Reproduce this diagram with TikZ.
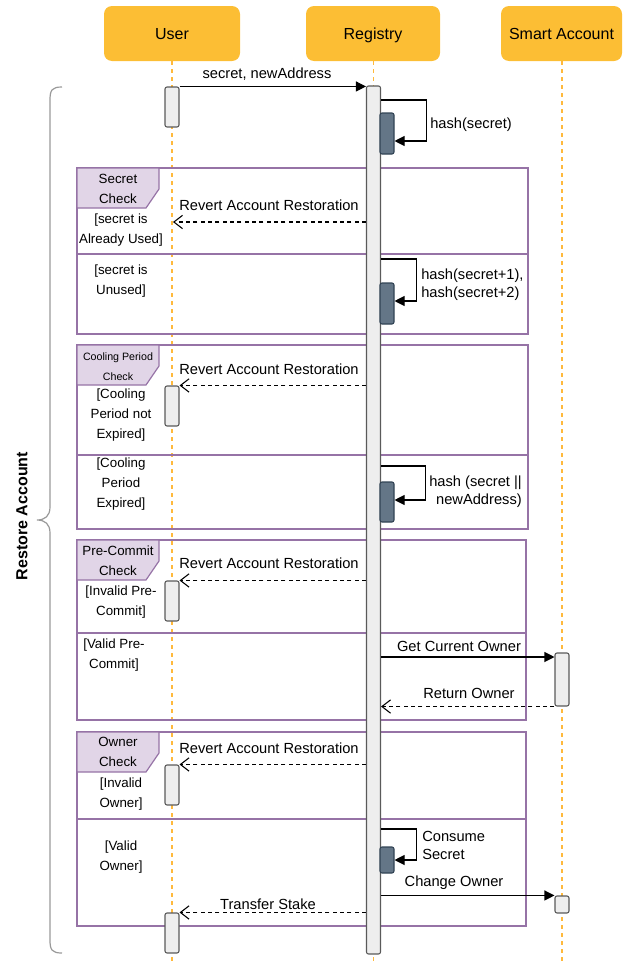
\documentclass[tikz,border=0pt]{standalone}
\usepackage{fontspec}
\setmainfont{Liberation Sans}
\usepackage{tikz}
\usetikzlibrary{arrows.meta}
\usetikzlibrary{positioning}
\definecolor{headfill}{RGB}{252,190,52}
\definecolor{lifecolor}{RGB}{255,185,60}
\definecolor{framecolor}{RGB}{150,115,166}
\definecolor{tabcolor}{RGB}{225,213,231}
\definecolor{actfill}{RGB}{238,238,238}
\definecolor{actdraw}{RGB}{90,90,90}
\definecolor{darkfill}{RGB}{100,118,135}
\definecolor{darkdraw}{RGB}{49,67,84}
\def\unitpx{0.75pt}
\tikzstyle{headbox}=[rectangle,rounded corners=6pt,fill=headfill,draw=none,minimum height=41.25pt,inner sep=0pt,text height=8.6pt,text depth=0pt,font=\fontsize{12}{14}\selectfont]
\tikzstyle{lifedash}=[draw=lifecolor,line width=0.9pt,dash pattern=on 3pt off 3pt]
\tikzstyle{actbar}=[rectangle,rounded corners=1.5pt,fill=actfill,draw=actdraw,line width=0.8pt,minimum width=10.5pt,inner sep=0pt]
\tikzstyle{darkbar}=[actbar,fill=darkfill,draw=darkdraw]
\tikzstyle{framebox}=[draw=framecolor,line width=0.9pt]
\tikzstyle{tabbox}=[framebox,fill=tabcolor]
\tikzstyle{guardtext}=[align=center,inner sep=0pt,font=\fontsize{10}{15}\selectfont]
\tikzstyle{msgtext}=[inner sep=0pt,font=\fontsize{11}{13.5}\selectfont]
\tikzstyle{syncmsg}=[draw=black,line width=0.8pt,-{Triangle[length=7.5pt,width=7.5pt]}]
\tikzstyle{replymsg}=[draw=black,line width=0.8pt,dash pattern=on 3pt off 2.5pt,-{Straight Barb[length=6.5pt,width=10pt]}]
\tikzstyle{bracepath}=[draw=black!40,line width=0.9pt]

\begin{document}
\begin{tikzpicture}[x=\unitpx, y=-\unitpx]
\useasboundingbox (0,0) rectangle (624,964);

%Participants
    \foreach \pos/\name/\w/\label in {{(172,33.5)/user/136/User}, {(373,33.5)/reg/134/Registry}, {(561.5,33.5)/acc/121/Smart Account}}
        \node[headbox, minimum width=\w*\unitpx] (\name) at \pos {\label};

%Lifelines
    \foreach \name/\x in {user/172, reg/373.5, acc/562}{
        \coordinate (\name-end) at (\x,964);
        \draw[lifedash] (\name.south -| \name-end) -- (\name-end);
    }

%Restore Account brace
    \draw[bracepath] (62,87) .. controls (52,87) and (50,90) .. (50,100) -- (50,507) .. controls (50,516) and (45,520) .. (37,520) .. controls (45,520) and (50,524) .. (50,533) -- (50,940) .. controls (50,950) and (52,953) .. (62,953);
    \node[rotate=90, inner sep=0pt, font=\bfseries\fontsize{12}{14}\selectfont] (restore) at (22,516) {Restore Account};

%Frames
    \foreach \t/\d/\b/\r in {168/254/334/528, 345/455/529/528, 540/633/720/526, 732/819/926/526}{
        \draw[framebox] (77,\t) rectangle (\r,\b);
        \draw[framebox] (77,\d) -- (\r,\d);
        \draw[tabbox] (77,\t) -- (159,\t) -- (159,\t+21) -- (146,\t+40) -- (77,\t+40) -- cycle;
    }
    \node[guardtext] (tabsecret) at (118,189) {Secret\\Check};
    \node[guardtext, font=\fontsize{8}{15}\selectfont] (tabcooling) at (118,367) {Cooling Period\\Check};
    \node[guardtext] (tabcommit) at (118,561) {Pre-Commit\\Check};
    \node[guardtext] (tabowner) at (118,752) {Owner\\Check};

%Guards
    \foreach \pos/\name/\label in {{(121,230)/gused/{[secret is\\Already Used]}}, {(121,281)/gunused/{[secret is\\Unused]}},
        {(121,415)/gnotexp/{[Cooling\\Period not\\Expired]}}, {(121,484)/gexp/{[Cooling\\Period\\Expired]}},
        {(121,602)/ginvalid/{[Invalid Pre-\\Commit]}}, {(114,655)/gvalid/{[Valid Pre-\\Commit]}},
        {(121,794)/gbadowner/{[Invalid\\Owner]}}, {(121,857)/gowner/{[Valid\\Owner]}}}
        \node[guardtext] (\name) at \pos {\label};

%Activations
    \foreach \name/\x/\t/\b in {u1/172/87/127, u2/172/386/426, u3/172/581/621, u4/172/765/805, u5/172/913/953, sa1/562/653/706, sa2/562/896/913}
        \node[actbar, minimum height={(\b-\t)*\unitpx}] (\name) at (\x,{(\t+\b)/2}) {};
    \node[actbar, minimum height={(954-86)*\unitpx}] (bar) at (373.5,520) {};
    \foreach \name/\t/\b in {s1/113/154, s2/283/324, s3/482/522, s4/847/873}
        \node[darkbar, minimum height={(\b-\t)*\unitpx}] (\name) at (387,{(\t+\b)/2}) {};

%Levels
    \foreach \name/\y in {y1a/100, y1b/141, y2a/259, y2b/301, y3a/466, y3b/500, y4a/829, y4b/860, yget/657}
        \coordinate (\name) at (0,\y);
    \coordinate (userpt) at (173,222);

%Messages
    \draw[syncmsg] (u1.north east) -- (u1.north east -| bar.west);
    \draw[syncmsg] (bar.east |- y1a) -- ++(45,0) |- (s1.east |- y1b);
    \draw[replymsg] (bar.west |- userpt) -- (userpt);
    \draw[syncmsg] (bar.east |- y2a) -- ++(35,0) |- (s2.east |- y2b);
    \draw[replymsg] (bar.west |- u2.north east) -- (u2.north east);
    \draw[syncmsg] (bar.east |- y3a) -- ++(44,0) |- (s3.east |- y3b);
    \draw[replymsg] (bar.west |- u3.north east) -- (u3.north east);
    \draw[syncmsg] (bar.east |- yget) -- (sa1.west |- yget);
    \draw[replymsg] (sa1.south west) -- (sa1.south west -| bar.east);
    \draw[replymsg] (bar.west |- u4.north east) -- (u4.north east);
    \draw[syncmsg] (bar.east |- y4a) -- ++(35,0) |- (s4.east |- y4b);
    \draw[syncmsg] (bar.east |- sa2.north west) -- (sa2.north west);
    \draw[replymsg] (bar.west |- u5.north east) -- (u5.north east);

%Message labels
    \node[msgtext] (lnew) at (267,74) {secret, newAddress};
    \node[msgtext, anchor=west] (lhash1) at (430,125) {hash(secret)};
    \node[msgtext, anchor=west, align=left] (lhash2) at (421,285) {hash(secret+1),\\hash(secret+2)};
    \node[msgtext, anchor=east, align=right] (lhash3) at (522,491.5) {hash (secret ||\\newAddress)};
    \node[msgtext, anchor=west, align=left] (lconsume) at (422,845.5) {Consume\\Secret};
    \foreach \y/\name in {205/lrev1, 369/lrev2, 563/lrev3, 748/lrev4}
        \node[msgtext] (\name) at (269,\y) {Revert Account Restoration};
    \node[msgtext] (lget) at (459,646) {Get Current Owner};
    \node[msgtext] (lret) at (469,693) {Return Owner};
    \node[msgtext] (lchange) at (454,883) {Change Owner};
    \node[msgtext] (ltransfer) at (268,904) {Transfer Stake};

\end{tikzpicture}
\end{document}
